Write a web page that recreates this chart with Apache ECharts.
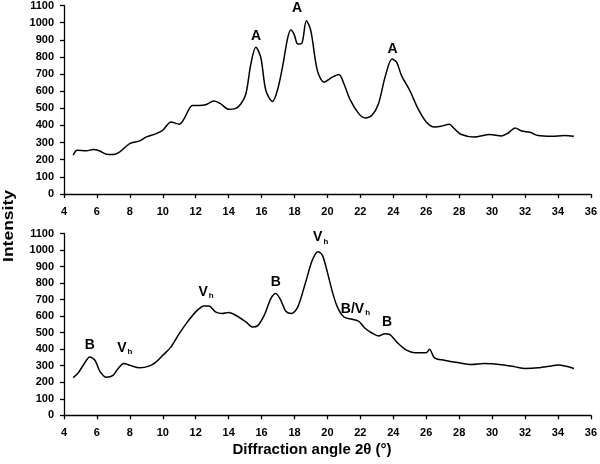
<!DOCTYPE html>
<html><head><meta charset="utf-8">
<script src="https://cdn.jsdelivr.net/npm/echarts@6/dist/echarts.min.js"></script>
<style>html,body{margin:0;padding:0;background:#fff}#c{width:600px;height:464px}</style>
</head><body><div id="c"></div>
<script>
// Top pattern (2θ, intensity)
const topAngle = [4.56,4.8,5.37,5.77,6.14,6.58,6.98,7.39,7.99,8.6,9.0,9.6,10.0,10.5,11.0,11.3,11.8,12.2,12.6,13.1,13.5,14.0,14.4,14.75,15.05,15.35,15.65,15.95,16.26,16.66,16.96,17.27,17.57,17.77,17.97,18.2,18.45,18.72,18.99,19.39,19.8,20.3,20.7,21.0,21.4,21.9,22.3,22.7,23.1,23.5,23.92,24.2,24.5,25.0,25.5,26.0,26.5,26.9,27.4,27.7,28.1,28.9,29.87,30.57,30.98,31.4,31.8,32.3,32.8,33.6,34.4,34.97];
const topIntensity = [227,256,252,260,252,232,230,246,294,310,333,352,372,420,407,440,517,517,521,542,527,494,498,527,585,759,856,798,604,540,604,740,904,957,933,875,880,1011,953,720,653,682,697,643,546,469,444,459,527,682,788,769,691,604,498,420,391,395,407,382,349,333,347,339,356,385,368,360,341,337,341,337];
// Bottom pattern
const botAngle = [4.56,4.87,5.17,5.57,5.88,6.18,6.58,6.98,7.29,7.63,7.99,8.6,9.2,9.6,10.0,10.5,11.0,11.5,12.0,12.5,12.8,13.2,13.6,14.0,14.5,15.05,15.45,15.75,16.16,16.56,16.86,17.17,17.47,17.83,18.2,18.68,19.08,19.44,19.69,19.99,20.3,20.6,21.0,21.5,21.9,22.3,22.7,23.1,23.5,23.8,24.3,24.8,25.3,26.0,26.2,26.5,27.1,27.9,28.76,29.5,30.8,31.4,32.0,32.8,33.6,34.0,34.5,34.97];
const botIntensity = [228,258,303,353,333,266,230,242,283,313,303,287,299,323,363,414,494,565,626,662,662,626,616,622,601,565,535,541,605,706,737,696,630,616,656,807,938,989,969,868,747,656,595,581,569,525,498,480,494,488,434,394,379,379,400,347,333,319,307,313,303,293,283,287,299,305,297,283];
// Peak annotations [angle, intensity, label]
const topPeaks = [[15.66,924,'A'],[18.16,1086,'A'],[23.96,848,'A']];
const botPeaks = [[5.57,424,'B'],[7.69,408,'Vh'],[12.63,747,'Vh'],[16.87,804,'B'],[19.59,1075,'Vh'],[21.7,642,'B/Vh'],[23.62,565,'B']];
const xTicks = {min:4,max:36,interval:2};
const yTicks = {min:0,max:1100,interval:100};

const font = '"Liberation Sans", Arial, sans-serif';
const chart = echarts.init(document.getElementById('c'), null, {renderer:'canvas'});
function xAxis(gi){return {type:'value',gridIndex:gi,min:xTicks.min,max:xTicks.max,interval:xTicks.interval,
  axisLine:{lineStyle:{color:'#000',width:1.3}},axisTick:{length:4,lineStyle:{color:'#000',width:1.3}},
  axisLabel:{color:'#000',fontFamily:font,fontWeight:'bold',fontSize:11,margin:12},splitLine:{show:false}};}
function yAxis(gi){return {type:'value',gridIndex:gi,min:yTicks.min,max:yTicks.max,interval:yTicks.interval,
  axisLine:{show:true,lineStyle:{color:'#000',width:1.3}},axisTick:{show:true,length:4,lineStyle:{color:'#000',width:1.3}},
  axisLabel:{color:'#000',fontFamily:font,fontWeight:'bold',fontSize:11,margin:10,formatter:v=>String(v)},splitLine:{show:false}};}
const rich = {n:{fontFamily:font,fontWeight:'bold',fontSize:14,color:'#000'},s:{fontFamily:font,fontWeight:'bold',fontSize:8,color:'#000',padding:[8,0,0,1]}};
function fmtLabel(t){return t.replace(/Vh/g,'{n|V}{s|h}').replace(/^([^{]+)/,'{n|$1}').replace(/\}([^{}]+)\{/g,'}{n|$1}{');}
function annot(arr,xi,yi){return {type:'scatter',xAxisIndex:xi,yAxisIndex:yi,symbolSize:0,silent:true,itemStyle:{opacity:1},
  data:arr.map(p=>({value:[p[0],p[1]],label:{show:true,position:'inside',color:'#000',fontWeight:'bold',fontSize:14,fontFamily:font,textBorderWidth:0,formatter:fmtLabel(p[2]),rich:rich}}))};}
chart.setOption({
  animation:false,
  grid:[{left:64,right:7,top:4.7,height:189.3},{left:64,right:7,top:233.5,height:181.8}],
  xAxis:[xAxis(0),xAxis(1)],
  yAxis:[yAxis(0),yAxis(1)],
  series:[
    {type:'line',xAxisIndex:0,yAxisIndex:0,showSymbol:false,smooth:0.3,lineStyle:{color:'#000',width:1.5},data:topAngle.map((a,i)=>[a,topIntensity[i]])},
    {type:'line',xAxisIndex:1,yAxisIndex:1,showSymbol:false,smooth:0.3,lineStyle:{color:'#000',width:1.5},data:botAngle.map((a,i)=>[a,botIntensity[i]])},
    annot(topPeaks,0,0),annot(botPeaks,1,1)
  ],
  graphic:[
    {type:'text',x:9.5,y:226,rotation:Math.PI/2,scaleX:1.25,style:{text:'Intensity',font:'bold 14px '+font,fill:'#000',align:'center',verticalAlign:'middle'}},
    {type:'text',x:312,y:450,style:{text:'Diffraction angle 2θ (°)',font:'bold 15px '+font,fill:'#000',align:'center',verticalAlign:'middle'}}
  ]
});
</script></body></html>
